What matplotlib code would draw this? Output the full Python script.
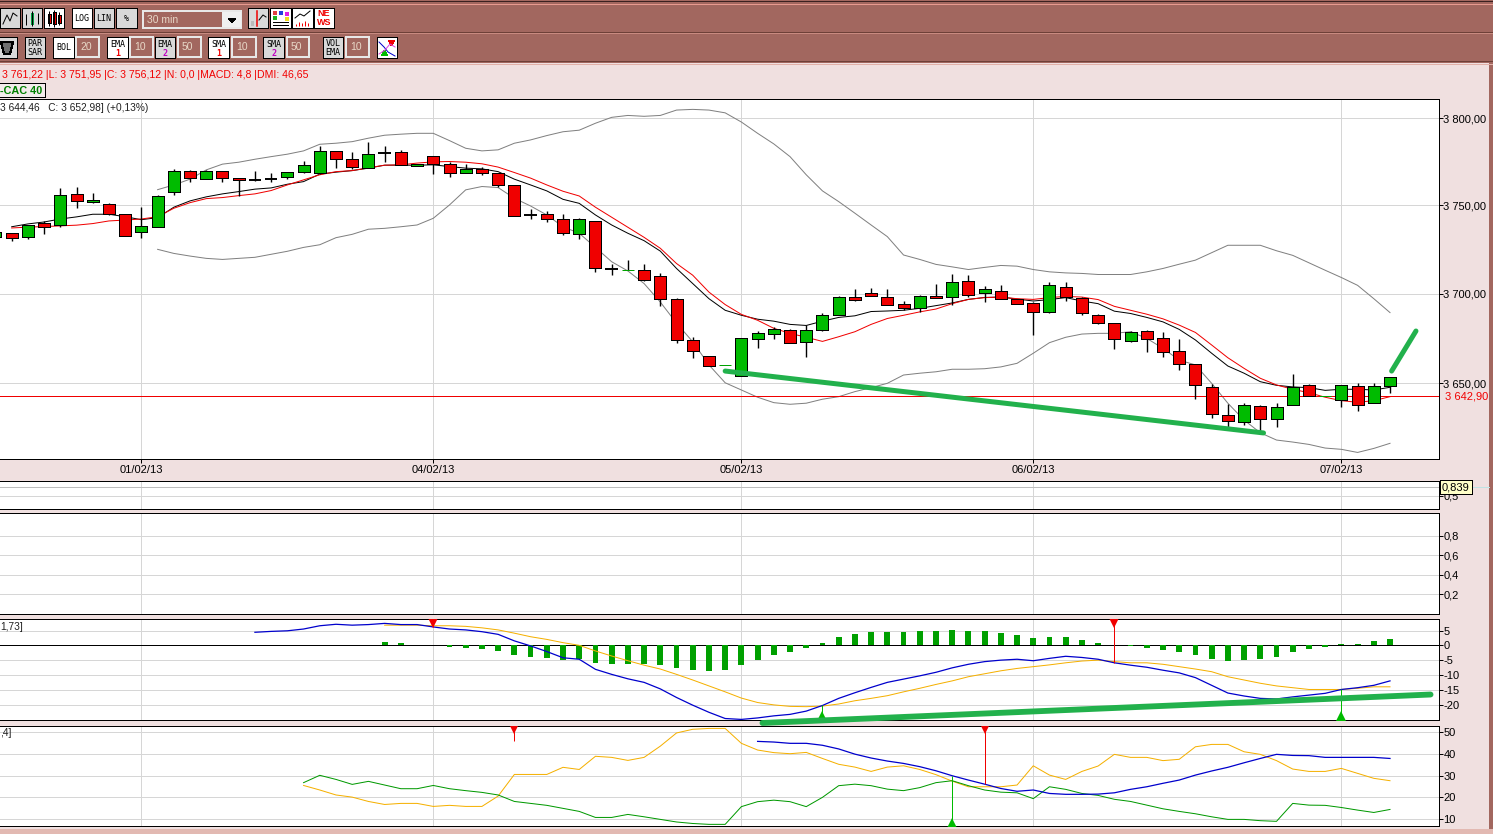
import matplotlib
matplotlib.use('Agg')
import matplotlib.pyplot as plt
from matplotlib.patches import Rectangle, Polygon
from matplotlib.ticker import NullLocator

plt.rcParams['font.family'] = ['Liberation Sans', 'DejaVu Sans']
plt.rcParams['patch.antialiased'] = False

W, H = 1493, 834
BG = '#F0E0E0'
BAR = '#A2675F'
GRID = '#D6D6D6'
RED = '#F00000'
GREEN = '#00BB00'
TREND = '#22B14C'
PX = 0.72  # one screen pixel, in points

# bars are numbered from the first session of 01/02/13
first_bar = -9
opens = [3732.2, 3734.4, 3731.8, 3739.8, 3738.6, 3756.3, 3751.7, 3750.6, 3744.9, 3734.7,
         3737.5, 3757.4, 3769.5, 3764.9, 3769.5, 3765.5, 3764.5, 3765.1, 3766.0, 3768.9,
         3768.3, 3780.9, 3776.3, 3771.2, 3779.6, 3780.4, 3772.3, 3778.1, 3773.5, 3768.3,
         3770.6, 3768.3, 3761.5, 3744.7, 3744.9, 3742.0, 3733.5, 3740.9, 3714.0, 3713.1,
         3713.1, 3709.7, 3697.2, 3673.9, 3665.0, 3660.0, 3654.2, 3674.4, 3677.2, 3679.4,
         3672.8, 3679.4, 3687.8, 3698.3, 3700.6, 3698.3, 3694.4, 3692.2, 3698.9, 3698.3,
         3707.4, 3700.6, 3701.7, 3697.2, 3695.0, 3690.0, 3704.0, 3697.8, 3688.3, 3683.3,
         3673.3, 3678.9, 3675.0, 3667.8, 3660.6, 3647.8, 3632.3, 3628.5, 3637.3, 3630.1,
         3637.9, 3648.9, 3642.8, 3640.6, 3648.3, 3639.0, 3648.3]
highs = [3734.7, 3734.4, 3739.0, 3740.9, 3759.7, 3760.3, 3756.9, 3751.1, 3744.9, 3748.9,
         3755.7, 3770.6, 3770.2, 3770.0, 3769.6, 3765.6, 3769.5, 3768.3, 3769.2, 3775.2,
         3784.0, 3780.9, 3780.4, 3786.1, 3783.8, 3781.5, 3773.5, 3778.3, 3774.6, 3773.5,
         3772.1, 3768.5, 3761.7, 3747.7, 3746.6, 3744.9, 3742.6, 3741.1, 3716.5, 3718.8,
         3716.5, 3711.4, 3697.4, 3675.6, 3665.0, 3660.0, 3675.0, 3678.9, 3681.1, 3680.0,
         3682.2, 3688.9, 3698.9, 3702.4, 3703.4, 3702.8, 3696.1, 3699.4, 3705.6, 3710.8,
         3710.4, 3704.1, 3704.7, 3697.2, 3695.6, 3706.8, 3706.4, 3698.3, 3688.5, 3683.5,
         3678.9, 3679.4, 3678.3, 3674.4, 3660.8, 3649.4, 3638.6, 3639.0, 3637.9, 3639.0,
         3655.2, 3649.4, 3642.8, 3648.9, 3650.0, 3650.0, 3653.3]
lows = [3732.2, 3729.9, 3730.7, 3733.9, 3737.8, 3748.6, 3751.1, 3744.3, 3732.4, 3731.6,
        3737.5, 3756.1, 3763.5, 3764.9, 3763.5, 3755.5, 3764.1, 3763.5, 3764.9, 3768.3,
        3768.1, 3771.5, 3770.8, 3771.0, 3774.8, 3772.9, 3772.3, 3768.1, 3766.4, 3768.3,
        3767.0, 3760.7, 3744.1, 3742.4, 3740.7, 3733.3, 3731.0, 3712.3, 3710.4, 3713.1,
        3707.2, 3693.0, 3672.6, 3664.2, 3659.8, 3660.0, 3654.2, 3669.8, 3674.8, 3672.2,
        3664.8, 3678.9, 3687.8, 3696.1, 3698.9, 3693.9, 3691.1, 3690.0, 3697.8, 3693.9,
        3698.0, 3695.4, 3697.2, 3694.4, 3677.0, 3688.9, 3696.1, 3688.3, 3682.8, 3669.2,
        3672.8, 3667.6, 3664.8, 3657.6, 3641.5, 3631.0, 3625.7, 3627.1, 3623.3, 3626.0,
        3637.9, 3642.8, 3642.8, 3637.1, 3634.9, 3639.0, 3644.5]
closes = [3734.7, 3731.3, 3739.0, 3737.5, 3755.7, 3752.3, 3752.9, 3744.9, 3732.4, 3738.1,
          3755.2, 3769.5, 3765.5, 3769.5, 3765.5, 3764.3, 3764.5, 3765.1, 3768.9, 3772.9,
          3780.9, 3776.3, 3771.8, 3779.2, 3779.6, 3772.9, 3773.5, 3773.5, 3768.3, 3770.6,
          3768.3, 3761.5, 3744.1, 3744.7, 3742.0, 3734.1, 3742.0, 3714.2, 3714.0, 3713.2,
          3707.7, 3697.2, 3673.9, 3667.8, 3659.8, 3660.1, 3675.0, 3677.8, 3680.0, 3672.2,
          3679.4, 3688.3, 3698.3, 3696.7, 3698.9, 3693.9, 3692.2, 3698.9, 3697.8, 3706.8,
          3699.4, 3702.8, 3697.2, 3694.4, 3690.0, 3705.1, 3698.3, 3689.4, 3683.3, 3674.4,
          3678.3, 3674.4, 3667.2, 3660.6, 3648.9, 3632.9, 3629.0, 3637.9, 3630.1, 3636.8,
          3647.8, 3642.8, 3642.9, 3648.9, 3637.9, 3648.3, 3653.3]

# moving averages start at bar -8
sma_first = -8
sma = [3737.8, 3739.4, 3740.5, 3742.2, 3743.4, 3744.9, 3744.9, 3743.5, 3741.8, 3743.0,
       3748.9, 3752.5, 3754.8, 3756.5, 3757.8, 3759.2, 3759.9, 3762.0, 3763.5, 3767.8,
       3768.9, 3769.8, 3771.2, 3772.9, 3772.9, 3772.9, 3773.1, 3772.1, 3771.2, 3770.8,
       3769.2, 3764.9, 3761.6, 3758.2, 3753.4, 3751.1, 3744.5, 3738.8, 3734.1, 3729.9,
       3724.0, 3714.2, 3705.7, 3697.2, 3690.7, 3687.9, 3685.7, 3684.6, 3682.8, 3682.2,
       3684.6, 3686.7, 3687.6, 3690.0, 3690.3, 3690.7, 3691.8, 3693.3, 3694.8, 3696.8,
       3697.9, 3698.1, 3697.0, 3695.9, 3696.7, 3697.8, 3695.9, 3694.4, 3690.2, 3688.9,
       3686.7, 3684.2, 3680.0, 3674.1, 3666.7, 3659.6, 3655.6, 3650.9, 3648.9, 3648.0,
       3647.6, 3646.1, 3646.7, 3646.7, 3646.3, 3647.8]
ema = [3737.1, 3737.6, 3737.9, 3738.3, 3738.7, 3739.6, 3741.1, 3741.6, 3742.2, 3743.5,
       3748.3, 3751.5, 3753.8, 3754.4, 3755.5, 3756.5, 3758.4, 3761.6, 3764.5, 3767.4,
       3769.2, 3769.8, 3771.4, 3772.9, 3773.1, 3774.1, 3774.8, 3775.0, 3774.6, 3773.7,
       3771.8, 3768.7, 3765.5, 3761.6, 3758.0, 3755.3, 3748.9, 3743.2, 3737.5, 3731.8,
       3725.6, 3717.0, 3710.4, 3700.9, 3693.9, 3688.4, 3685.1, 3680.6, 3677.8, 3675.6,
       3673.3, 3675.9, 3678.7, 3682.8, 3686.1, 3687.9, 3689.8, 3691.4, 3694.4, 3696.8,
       3697.8, 3698.1, 3697.2, 3696.8, 3697.8, 3698.5, 3698.1, 3696.7, 3692.9, 3690.7,
       3688.5, 3685.9, 3682.4, 3678.3, 3671.3, 3664.2, 3658.3, 3652.8, 3649.1, 3646.7,
       3644.8, 3642.3, 3640.4, 3639.5, 3640.4, 3642.6]

# bollinger bands start at bar 1
boll_first = 1
boll_up = [3758.9, 3761.6, 3764.9, 3770.2, 3773.5, 3774.6, 3776.3, 3777.8, 3779.2, 3781.1,
           3784.9, 3785.5, 3786.4, 3788.4, 3790.1, 3790.7, 3791.2, 3791.2, 3787.0, 3782.6,
           3781.1, 3781.7, 3785.5, 3787.4, 3789.9, 3792.1, 3793.0, 3797.0, 3800.4, 3801.5,
           3801.0, 3801.5, 3804.6, 3805.0, 3804.6, 3803.0, 3797.7, 3791.2, 3785.1, 3777.8,
           3767.4, 3758.2, 3752.1, 3745.5, 3738.8, 3732.2, 3721.8, 3719.3, 3716.5, 3715.1,
           3713.6, 3714.8, 3715.9, 3715.5, 3713.6, 3712.3, 3711.7, 3711.4, 3710.8, 3710.8,
           3710.8, 3712.3, 3714.2, 3716.6, 3718.9, 3723.1, 3727.3, 3727.3, 3727.3, 3724.2,
           3721.6, 3717.4, 3713.2, 3709.1, 3704.7, 3697.2, 3689.4]
boll_low = [3725.0, 3722.7, 3721.2, 3719.9, 3719.3, 3719.9, 3720.5, 3722.2, 3723.9, 3726.1,
            3727.6, 3731.6, 3733.5, 3736.4, 3736.9, 3737.8, 3738.8, 3742.6, 3750.2, 3758.8,
            3760.7, 3760.1, 3754.0, 3749.6, 3744.5, 3737.8, 3734.1, 3726.1, 3718.0, 3712.8,
            3705.7, 3695.3, 3683.5, 3673.1, 3660.2, 3650.3, 3646.3, 3642.3, 3639.3, 3638.4,
            3639.0, 3641.2, 3642.6, 3645.4, 3647.6, 3650.0, 3654.6, 3655.6, 3656.4, 3657.8,
            3657.8, 3658.1, 3659.1, 3661.1, 3666.7, 3672.6, 3675.6, 3677.4, 3677.8, 3677.8,
            3678.7, 3675.0, 3669.4, 3662.9, 3660.2, 3650.0, 3639.0, 3629.7, 3622.7, 3618.7,
            3617.6, 3616.3, 3614.3, 3613.6, 3611.9, 3614.1, 3616.9]

# macd line from bar 7, signal from bar 15
macd_first = 7
macd = [4.4, 4.7, 4.9, 5.5, 6.6, 7.1, 6.8, 7.0, 7.4, 7.0, 7.0, 6.2, 5.5, 5.2, 4.6, 3.7,
        1.5, -0.2, -2.1, -4.2, -4.7, -8.1, -9.8, -11.3, -12.5, -14.7, -17.6, -20.2,
        -22.6, -24.7, -25.0, -24.5, -23.8, -23.3, -22.2, -20.3, -17.9, -16.0, -14.2,
        -12.5, -11.4, -10.3, -9.1, -7.6, -6.4, -5.5, -5.0, -4.7, -5.2, -4.4, -3.7, -4.1,
        -4.7, -5.9, -6.7, -7.4, -8.4, -9.3, -10.9, -13.5, -16.1, -17.1, -17.9, -18.1,
        -17.4, -16.8, -16.2, -14.9, -14.3, -13.5, -12.0]
signal_first = 15
signal = [6.8, 6.8, 6.8, 6.6, 6.6, 6.4, 5.9, 5.2, 4.1, 2.9, 2.0, 0.9, 0.0, -1.9, -3.6,
          -5.2, -6.7, -8.0, -9.8, -11.7, -13.7, -15.7, -17.8, -19.3, -20.1, -20.6, -20.7,
          -20.5, -19.8, -18.7, -17.9, -17.0, -15.7, -14.5, -13.2, -12.0, -10.6, -9.6, -8.6,
          -7.8, -7.2, -6.6, -5.9, -5.3, -5.0, -5.5, -5.9, -5.9, -6.4, -7.2, -8.0, -8.9,
          -10.6, -11.7, -12.8, -13.7, -14.3, -14.9, -14.9, -14.9, -14.5, -14.0, -14.0]
hist_bars = [15, 16] + list(range(19, 60)) + list(range(61, 78))
hist = [1.1, 0.8, -0.6, -0.9, -1.2, -1.9, -3.3, -3.9, -4.3, -5.0, -4.7, -6.0, -6.4, -6.4,
        -6.3, -6.6, -7.7, -8.3, -8.7, -8.3, -6.6, -4.9, -3.3, -2.3, -0.9, 0.8, 2.8, 3.8,
        4.5, 4.5, 4.5, 4.8, 4.8, 5.2, 4.8, 4.8, 4.2, 3.5, 2.5, 2.8, 2.8, 1.8, 0.8, -0.3,
        -0.9, -1.6, -2.3, -3.3, -4.6, -5.2, -4.9, -4.6, -3.9, -2.3, -1.2, -0.4, 0.4, 0.3,
        1.5, 2.1]

# dmi
di_first = 10
di_plus = [25.4, 23.3, 21.0, 20.0, 18.0, 16.6, 17.1, 17.1, 15.7, 16.2, 15.7, 15.7, 20.5,
           30.5, 30.5, 30.5, 33.8, 32.8, 38.9, 38.4, 37.0, 38.4, 43.6, 49.7, 51.4, 51.8,
           51.8, 44.9, 41.8, 40.6, 40.1, 40.7, 37.9, 35.2, 33.9, 31.9, 33.9, 34.5, 32.8,
           30.4, 27.4, 24.8, 24.8, 24.8, 25.6, 34.5, 30.2, 28.2, 31.9, 34.4, 39.8, 38.4,
           38.4, 36.9, 37.5, 43.3, 44.4, 44.4, 41.0, 39.8, 36.9, 33.0, 31.9, 31.9, 33.3,
           31.0, 28.7, 27.6]
di_minus = [26.7, 30.1, 28.2, 25.9, 27.3, 25.6, 23.9, 23.9, 25.4, 23.9, 23.0, 22.2, 21.0,
            18.0, 17.1, 16.2, 14.8, 13.4, 10.6, 10.6, 12.0, 10.9, 9.7, 8.5, 7.8, 7.4, 7.4,
            15.6, 17.9, 18.6, 17.9, 15.6, 19.9, 25.3, 26.0, 25.3, 23.7, 23.0, 24.4, 26.7,
            27.6, 25.3, 23.3, 22.3, 22.0, 19.3, 24.8, 23.6, 21.7, 20.8, 19.0, 18.0, 16.3,
            14.6, 13.4, 12.3, 10.9, 9.7, 9.7, 9.1, 8.8, 17.1, 16.3, 16.2, 15.2, 14.0, 12.9,
            14.3]
adx_first = 38
adx = [45.8, 45.5, 44.9, 44.9, 44.0, 42.3, 39.9, 38.1, 36.7, 35.6, 34.1, 32.2, 29.9, 27.9,
       26.0, 24.0, 22.7, 23.3, 21.7, 21.3, 21.3, 21.4, 22.0, 23.6, 24.8, 26.4, 27.9, 30.2,
       32.1, 33.8, 35.9, 37.9, 39.8, 39.3, 39.2, 38.4, 38.4, 38.4, 38.4, 37.9]

day_bars = [0, 18, 37, 55, 74]
day_labels = ['01/02/13', '04/02/13', '05/02/13', '06/02/13', '07/02/13']
price_ticks = [3650, 3700, 3750, 3800]
price_labels = ['3 650,00', '3 700,00', '3 750,00', '3 800,00']
last_price = 3642.90
last_label = '3 642,90'
stoch_ticks = [0.5]
stoch_labels = ['0,5']
stoch_value = 0.839
rsi_ticks = [0.2, 0.4, 0.6, 0.8]
rsi_labels = ['0,2', '0,4', '0,6', '0,8']
macd_ticks = [-20, -15, -10, -5, 0, 5]
macd_labels = ['-20', '-15', '-10', '-5', '0', '5']
dmi_ticks = [10, 20, 30, 40, 50]
dmi_labels = ['10', '20', '30', '40', '50']


def pane(top, bottom):
    ax = fig.add_axes([0, 1 - bottom / H, 1438.5 / W, (bottom - top) / H], zorder=2)
    ax.set_xlim(-8.72, 79.99)
    ax.set_xticks(day_bars)
    ax.set_xticklabels([])
    ax.tick_params(axis='x', length=0)
    ax.yaxis.tick_right()
    ax.tick_params(axis='y', length=3, width=PX, pad=0.5, labelsize=8)
    ax.grid(True, color=GRID, lw=PX)
    ax.set_axisbelow(True)
    ax.spines['left'].set_visible(False)
    for s in ['top', 'bottom', 'right']:
        ax.spines[s].set_linewidth(PX)
    return ax


def bars(first, values):
    return list(range(first, first + len(values)))


def button(x0, y0, x1, y1, label=None, active=False, color='black', sub=None, subcolor=RED):
    face = 'white' if active else '#D9D9D9'
    top.add_patch(Rectangle((x0, y0), x1 - x0, y1 - y0, fc=face, ec='black', lw=PX))
    if label and sub:
        top.text((x0 + x1) / 2, y0 + 7.5, label, fontsize=6, family='DejaVu Sans Mono', ha='center', va='center', color=color)
        top.text((x0 + x1) / 2, y0 + 16, sub, fontsize=6, family='DejaVu Sans Mono', ha='center', va='center', color=subcolor, fontweight='bold')
    elif label:
        top.text((x0 + x1) / 2, (y0 + y1) / 2, label, fontsize=6, family='DejaVu Sans Mono', ha='center', va='center',
                 color=color, linespacing=1.0)


def field(x0, y0, x1, y1, label):
    top.add_patch(Rectangle((x0, y0), x1 - x0, y1 - y0, fc=BAR, ec='#E8E8E8', lw=1.1))
    top.text(x0 + 4, (y0 + y1) / 2, label, fontsize=7.5, color='#E8D8C8', va='center')


fig = plt.figure(figsize=(W / 100, H / 100), dpi=100, facecolor=BG)

# window background and toolbars
back = fig.add_axes([0, 0, 1, 1], zorder=0)
back.set_xlim(0, W)
back.set_ylim(H, 0)
back.axis('off')
back.add_patch(Rectangle((0, 0), W, 63, fc=BAR, ec='none'))
back.add_patch(Rectangle((1489, 63), 4, H - 63, fc=BAR, ec='none'))
back.add_patch(Rectangle((0, 829), W, 5, fc='#E2B9B2', ec='none'))
for y, c in [(1, '#3A2020'), (4, '#E89A90'), (31.5, '#6E4038'), (33, '#C88A80'),
             (61, '#6E4038'), (63.5, '#E2B0A8')]:
    back.plot([0, W], [y, y], color=c, lw=PX)

# price pane
ax = pane(99, 459)
ax.set_yscale('log')
ax.set_ylim(3608.3, 3811)
ax.yaxis.set_minor_locator(NullLocator())
ax.set_yticks(price_ticks)
ax.set_yticklabels(price_labels)
ax.yaxis.set_minor_locator(NullLocator())
ax.plot(bars(boll_first, boll_up), boll_up, color='#808080', lw=PX, zorder=2)
ax.plot(bars(boll_first, boll_low), boll_low, color='#808080', lw=PX, zorder=2)
ax.plot(bars(sma_first, sma), sma, color='black', lw=PX, zorder=2.2)
ax.plot(bars(sma_first, ema), ema, color=RED, lw=PX, zorder=2.3)
ax.axhline(last_price, color=RED, lw=PX, zorder=2.4)
for i, (o, h, l, c) in enumerate(zip(opens, highs, lows, closes)):
    x = first_bar + i
    ax.vlines(x, l, h, color='black', lw=1, zorder=3)
    if abs(c - o) < 0.3:
        col = 'black' if c == o else '#00A000'
        lw = 1.4 if c == o else PX
        ax.hlines(o, x - 0.38, x + 0.38, color=col, lw=lw, zorder=3.2)
    else:
        ax.bar(x, abs(c - o), bottom=min(o, c), width=0.74, color=GREEN if c > o else RED,
               edgecolor='black', lw=PX, zorder=3.2)
# hand drawn trend lines
ax.plot([36, 69.2], [3656.8, 3622.6], color=TREND, lw=3.6, solid_capstyle='round', zorder=5)
ax.plot([77.1, 78.6], [3656.8, 3679.1], color=TREND, lw=3.6, solid_capstyle='round', zorder=5)
ax.text(-8.72, 3811 * 0.99945, '3 644,46   C: 3 652,98] (+0,13%)', fontsize=7.3, va='top', ha='left', color='#202020')
ax.tick_params(axis='x', length=3, width=PX, color='black', pad=1)
ax.set_xticklabels(day_labels, fontsize=8)

# stochastic pane
ax2 = pane(481.5, 508.5)
ax2.set_ylim(0.025, 1.04)
ax2.set_yticks(stoch_ticks)
ax2.set_yticklabels(stoch_labels)
ax2.axhline(stoch_value, color='#BDBDBD', lw=PX)
ax2.plot([1, 1.035], [stoch_value, stoch_value], color='#BFE3E3', lw=PX, clip_on=False,
         transform=ax2.get_yaxis_transform())

# rsi pane
ax3 = pane(513, 614)
ax3.set_ylim(-0.006, 1.037)
ax3.set_yticks(rsi_ticks)
ax3.set_yticklabels(rsi_labels)

# macd pane
ax4 = pane(619.3, 720.3)
ax4.set_ylim(-25.3, 8.78)
ax4.set_yticks(macd_ticks)
ax4.set_yticklabels(macd_labels)
ax4.axhline(0, color='black', lw=PX, zorder=1.5)
ax4.bar(hist_bars, hist, width=0.36, color='#00A000', zorder=2)
ax4.plot(bars(signal_first, signal), signal, color='#F5B000', lw=PX, zorder=2.5)
ax4.plot(bars(macd_first, macd), macd, color='#0000CC', lw=0.9, zorder=2.6)
ax4.vlines([18, 60], [6.2, -5.9], 8.78, color=RED, lw=PX, zorder=3)
ax4.plot([18, 60], [7.5, 7.5], 'v', color=RED, ms=7, zorder=3, mew=0)
ax4.vlines([42, 74], -25.3, [-20.3, -14.9], color=GREEN, lw=PX, zorder=3)
ax4.plot([42, 74], [-23.9, -23.9], '^', color=GREEN, ms=7, zorder=3, mew=0)
ax4.plot([38.3, 79.5], [-26.2, -16.6], color=TREND, lw=4.2, solid_capstyle='round', clip_on=False, zorder=5)
ax4.text(-8.72, 8.0, '1,73]', fontsize=7.3, va='top', ha='left', color='#202020')

# dmi pane
ax5 = pane(725.7, 826.3)
ax5.set_ylim(6.5, 53.06)
ax5.set_yticks(dmi_ticks)
ax5.set_yticklabels(dmi_labels)
ax5.plot(bars(di_first, di_plus), di_plus, color='#F5B000', lw=PX, zorder=2.5)
ax5.plot(bars(di_first, di_minus), di_minus, color='#009900', lw=PX, zorder=2.5)
ax5.plot(bars(adx_first, adx), adx, color='#0000CC', lw=0.9, zorder=2.6)
ax5.vlines([23, 52], [46.1, 26.0], 53.06, color=RED, lw=PX, zorder=3)
ax5.plot([23, 52], [51.4, 51.4], 'v', color=RED, ms=7, zorder=3, mew=0)
ax5.vlines([50], 6.5, [29.9], color=GREEN, lw=PX, zorder=3)
ax5.plot([50], [8.1], '^', color=GREEN, ms=7, zorder=3, mew=0)
ax5.text(-8.72, 52.2, ',4]', fontsize=7.3, va='top', ha='left', color='#202020')

# window furniture above the panes
top = fig.add_axes([0, 0, 1, 1], zorder=5)
top.set_xlim(0, W)
top.set_ylim(H, 0)
top.axis('off')
top.patch.set_alpha(0)

top.text(1445, 396.5, last_label, fontsize=8, color=RED, va='center', ha='left')
top.add_patch(Rectangle((1440, 480), 32, 14, fc='#FFFFC8', ec='black', lw=PX))
top.text(1456, 487, '0,839', fontsize=8, va='center', ha='center')

top.text(2, 74.5, '3 761,22 |L: 3 751,95 |C: 3 756,12 |N: 0,0 |MACD: 4,8 |DMI: 46,65',
         fontsize=7.6, color=RED, va='center', ha='left')
top.add_patch(Rectangle((-2, 83), 47, 14, fc='#F4ECEC', ec='black', lw=PX))
top.text(0, 90.5, '-CAC 40', fontsize=7.8, color='#008000', fontweight='bold', va='center', ha='left')

# first row of buttons
for x0, x1 in [(0, 20), (22, 42), (44, 64)]:
    button(x0, 8, x1, 28, active=(x0 == 44))
top.plot([3, 7, 10, 13, 17], [24, 15, 21, 13, 16], color='black', lw=PX)
top.vlines([26, 32, 38], [14, 11, 13], [25, 26, 24], color='black', lw=PX)
top.add_patch(Rectangle((30.5, 13), 3, 12, fc='#00A040', ec='none'))
top.vlines([49, 54, 59], [11, 10, 12], [26, 27, 25], color='black', lw=PX)
top.add_patch(Rectangle((47.5, 14), 3, 9, fc=RED, ec='black', lw=0.5))
top.add_patch(Rectangle((52.5, 12), 3, 12, fc=RED, ec='black', lw=0.5))
top.add_patch(Rectangle((57.5, 15), 3, 8, fc=RED, ec='black', lw=0.5))
button(72, 8, 92, 28, 'LOG', active=True)
button(94, 8, 114, 28, 'LIN')
button(116, 8, 137, 28, '%')

top.add_patch(Rectangle((143, 11), 98, 17, fc=BAR, ec='#E8E8E8', lw=1.1))
top.add_patch(Rectangle((222, 12), 19, 15, fc='#F0F0F0', ec='none'))
top.add_patch(Polygon([[228, 18.5], [236, 18.5], [232, 22.5]], fc='black', ec='none'))
top.text(147, 19.5, '30 min', fontsize=7.5, color='#E8D8C8', va='center')

button(248, 8, 268, 28)
top.add_patch(Rectangle((251, 21), 3, 5, fc='#BBBBBB', ec='none'))
top.plot([256.5, 256.5], [11, 26], color=RED, lw=1.1)
top.plot([259, 263, 266], [20, 15, 17], color='black', lw=PX)
button(270, 8, 291, 28, active=True)
for x, y, c in [(273, 11, '#E04040'), (279, 11, '#2040E0'), (285, 12, '#E020E0'), (273, 16, '#20B020'), (285, 17, '#F0E020')]:
    top.add_patch(Rectangle((x, y), 4, 4, fc=c, ec='none'))
top.plot([273, 288], [22, 22], color='black', lw=PX)
top.plot([273, 288], [25, 25], color='black', lw=PX)
button(292, 8, 313, 28, active=True)
top.plot([295, 300, 304, 310], [18, 14, 16, 11], color='black', lw=PX)
top.vlines([296, 299, 302, 305, 308], [24, 22, 23, 21, 23], 26, color=RED, lw=PX)
button(314, 8, 334, 28, active=True)
top.text(324, 13.5, 'NE', fontsize=6.5, color=RED, fontweight='bold', ha='center', va='center')
top.text(324, 22.5, 'WS', fontsize=6.5, color=RED, fontweight='bold', ha='center', va='center')

# second row
button(-3, 37, 17, 58)
top.add_patch(Polygon([[1, 42], [13, 42], [10, 54], [4, 54]], fc='#707070', ec='black', lw=PX))
button(25, 37, 45, 58, 'PAR\nSAR')
button(53, 37, 74, 58, 'BOL', active=True)
field(76, 37, 99, 57, '20')
button(107, 37, 128, 58, 'EMA', active=True, sub='1')
field(130, 37, 153, 57, '10')
button(155, 37, 175, 58, 'EMA', sub='2', subcolor='#C000C0')
field(178, 37, 201, 57, '50')
button(208, 37, 229, 58, 'SMA', active=True, sub='1')
field(232, 37, 256, 57, '10')
button(263, 37, 284, 58, 'SMA', sub='2', subcolor='#C000C0')
field(287, 37, 309, 57, '50')
button(323, 37, 343, 58, 'VOL\nEMA')
field(346, 37, 369, 57, '10')
button(377, 37, 397, 58, active=True)
top.plot([379, 384, 388, 395], [42, 47, 52, 56], color='#0000CC', lw=PX)
top.plot([379, 385, 390, 395], [54, 50, 44, 47], color='#E040E0', lw=PX)
top.add_patch(Polygon([[388, 40], [395, 40], [391.5, 46]], fc=RED, ec='none'))
top.add_patch(Polygon([[381, 56], [388, 56], [384.5, 50]], fc=GREEN, ec='none'))

fig.savefig('out.png', dpi=100, facecolor=BG)
